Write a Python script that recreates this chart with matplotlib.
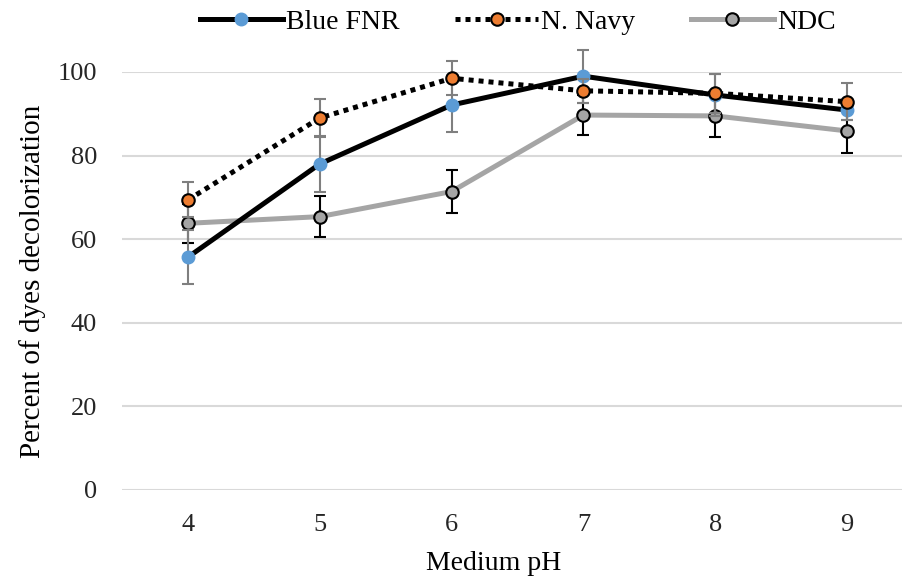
"""Відсоток знебарвлення барвників залежно від pH середовища."""

import matplotlib.pyplot as plt

ph_values = [4, 5, 6, 7, 8, 9]

blue_fnr = [55.7, 78.0, 92.1, 99.0, 94.5, 90.9]
blue_fnr_err = [6.5, 6.8, 6.4, 6.3, 5.0, 2.5]

n_navy = [69.4, 89.0, 98.5, 95.5, 94.9, 92.9]
n_navy_err = [4.2, 4.5, 4.1, 2.8, 4.6, 4.5]

ndc = [63.8, 65.4, 71.4, 89.7, 89.5, 85.9]
ndc_err = [4.6, 4.9, 5.2, 4.8, 5.0, 5.2]

y_ticks = [0, 20, 40, 60, 80, 100]

plt.rcParams["font.family"] = ["Liberation Serif", "DejaVu Serif"]

fig = plt.figure(figsize=(9.02, 5.84), dpi=100)
ax = fig.add_axes([122 / 902, 1 - 490 / 584, (913 - 122) / 902, (490 - 72) / 584])

# Blue FNR
ax.errorbar(ph_values, blue_fnr, yerr=blue_fnr_err, fmt="none", ecolor="#7f7f7f",
            elinewidth=1.5, capsize=4.5, capthick=1.5, zorder=3, clip_on=False)
ax.plot(ph_values, blue_fnr, color="black", linewidth=3.6, marker="o", markersize=9,
        markerfacecolor="#5b9bd5", markeredgecolor="#5b9bd5", label="Blue FNR",
        zorder=4, clip_on=False)

# N. Navy
ax.errorbar(ph_values, n_navy, yerr=n_navy_err, fmt="none", ecolor="#7f7f7f",
            elinewidth=1.5, capsize=4.5, capthick=1.5, zorder=5, clip_on=False)
ax.plot(ph_values, n_navy, color="black", linewidth=3.6, linestyle=(0, (1, 1)),
        marker="o", markersize=9, markerfacecolor="#ed7d31", markeredgecolor="black",
        markeredgewidth=1.5, label="N. Navy", zorder=6, clip_on=False)

# NDC
ax.errorbar(ph_values, ndc, yerr=ndc_err, fmt="none", ecolor="black",
            elinewidth=1.5, capsize=4.5, capthick=1.5, zorder=2, clip_on=False)
ax.plot(ph_values, ndc, color="#a5a5a5", linewidth=3.6, marker="o", markersize=9,
        markerfacecolor="#a5a5a5", markeredgecolor="black", markeredgewidth=1.5,
        label="NDC", zorder=2.5, clip_on=False)

ax.set_xlim(3.5, 9.5)
ax.set_ylim(0, 100)
ax.set_xticks(ph_values)
ax.set_yticks(y_ticks)
ax.tick_params(axis="both", length=0, labelsize=19, colors="#262626")
ax.tick_params(axis="x", pad=17)
ax.tick_params(axis="y", pad=18)
ax.grid(axis="y", color="#d9d9d9", linewidth=1.5)
ax.set_axisbelow(True)
for side in ["top", "right", "left", "bottom"]:
    ax.spines[side].set_visible(False)

ax.set_xlabel("Medium pH", fontsize=20)
ax.xaxis.set_label_coords((494 - 122) / 791, -0.145)
ax.set_ylabel("Percent of dyes decolorization", fontsize=21, labelpad=8)

ax.legend(loc="center", bbox_to_anchor=((122 + 913) / 2 / 902, 1 - 22 / 584),
          bbox_transform=fig.transFigure, ncol=3, frameon=False,
          fontsize=20, handlelength=3.0, handletextpad=0.1, columnspacing=2.0,
          borderaxespad=0.0, borderpad=0.0)

fig.savefig("out.png", dpi=100)
